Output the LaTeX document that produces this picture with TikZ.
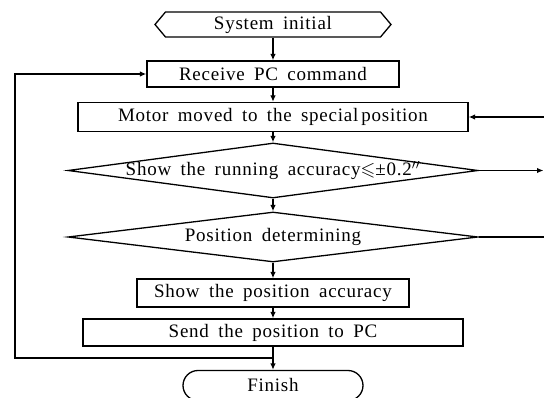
\documentclass[tikz,border=0pt]{standalone}
\usepackage{amssymb}
\usepackage{fontspec}
\setmainfont{Liberation Serif}[LetterSpace=4,WordSpace=1.7]
\usetikzlibrary{arrows.meta,shapes.geometric,shapes.symbols,shapes.misc}
\begin{document}
\begin{tikzpicture}[x=1pt,y=-1pt,
  every node/.style={font=\fontsize{19pt}{21pt}\selectfont, inner sep=0pt, line width=1.3pt},
  procbox/.style={draw, rectangle},
  decbox/.style={draw, diamond},
  arr/.style={-{Latex[length=6.5pt,width=5.5pt]}, line width=1.3pt},
  plain/.style={line width=1.3pt}]
\useasboundingbox (0,0) rectangle (544,398);
% nodes
\node[draw, signal, signal to=west and east, signal pointer angle=100,
      minimum width=236pt, minimum height=25pt] (init) at (273,24.5) {};
\node (initt) at (init.center) {System initial};
\node[procbox, minimum width=252pt, minimum height=26pt] (recv) at (273,74) {Receive PC command};
\node[procbox, minimum width=390pt, minimum height=29pt] (motor) at (273,117) {Motor moved to the special\kern3pt position};
\node[decbox, minimum width=410pt, minimum height=55pt] (d1) at (273,170.5) {};
\node (d1t) at (d1.center) {Show the running accuracy$\leqslant$±0.2$''$};
\node[decbox, minimum width=410pt, minimum height=50pt] (d2) at (273,237) {};
\node (d2t) at (d2.center) {Position determining};
\node[procbox, minimum width=272pt, minimum height=28pt] (show) at (273,293) {Show the position accuracy};
\node[procbox, minimum width=380pt, minimum height=27pt] (send) at (273,332.5) {Send the position to PC};
\node[draw, rounded rectangle, minimum width=180pt, minimum height=30pt] (fin) at (273,385.5) {Finish};
% helper coordinates
\coordinate (jn) at (273,358);
\coordinate (lb) at (15,358);
\coordinate (r1) at (544,117);
\coordinate (r2) at (543.5,170.5);
\coordinate (r3) at (544,237);
% connectors
\draw[arr] (init.south) -- (recv.north);
\draw[arr] (recv.south) -- (motor.north);
\draw[arr] (motor.south) -- (d1.north);
\draw[arr] (d1.south) -- (d2.north);
\draw[arr] (d2.south) -- (show.north);
\draw[arr] (show.south) -- (send.north);
\draw[arr] (send.south) -- (fin.north);
\draw[arr] (jn) -- (lb) |- (recv.west);
\draw[arr] (r1) -- (motor.east);
\draw[arr] (d1.east) -- (r2);
\draw[plain] (d2.east) -- (r3);
\end{tikzpicture}
\end{document}
